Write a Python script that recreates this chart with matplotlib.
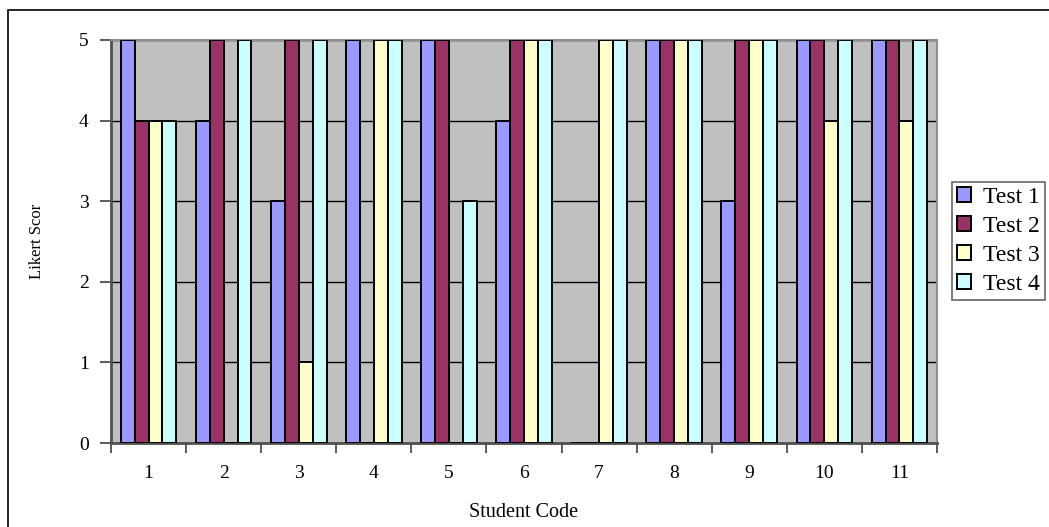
import numpy as np
import matplotlib.pyplot as plt
from matplotlib.patches import Rectangle

plt.rcParams['font.family'] = ['Liberation Serif', 'DejaVu Serif']

# Likert scores per student for each test
students = ['1', '2', '3', '4', '5', '6', '7', '8', '9', '10', '11']
test1 = [5, 4, 3, 5, 5, 4, 0, 5, 3, 5, 5]
test2 = [4, 5, 5, 0, 5, 5, 0, 5, 5, 5, 5]
test3 = [4, 0, 1, 5, 0, 5, 5, 5, 5, 4, 4]
test4 = [4, 5, 5, 5, 3, 5, 5, 5, 5, 5, 5]
series = ['Test 1', 'Test 2', 'Test 3', 'Test 4']
colors = ['#9999FF', '#993366', '#FFFFCC', '#CCFFFF']

fig = plt.figure(figsize=(10.49, 5.27), dpi=100)
W, H = 1049, 527
ax = fig.add_axes([111 / W, 1 - 443 / H, 826 / W, 403 / H])

# outer chart border
fig.patches.append(Rectangle((8 / W, -0.1), 1.2, 1 - 10 / H + 0.1,
                             transform=fig.transFigure, fill=False,
                             edgecolor='black', linewidth=1.2))

x = np.arange(len(students))
bw = 0.185
for i, (vals, name, c) in enumerate(zip([test1, test2, test3, test4], series, colors)):
    ax.bar(x + (i - 1.5) * bw, vals, width=bw, color=c, edgecolor='black',
           linewidth=1.4, label=name, zorder=3)

ax.set_facecolor('#C0C0C0')
ax.set_xlim(-0.5, len(students) - 0.5)
ax.set_ylim(0, 5)
ax.set_yticks(range(6))
ax.yaxis.grid(True, color='black', linewidth=1.0, zorder=1)
ax.set_axisbelow(True)

# category ticks sit between groups, labels at group centres
ax.set_xticks(np.arange(-0.5, len(students), 1.0))
ax.set_xticklabels([])
ax.set_xticks(x, minor=True)
ax.set_xticklabels(students, minor=True, fontsize=14)
ax.tick_params(axis='x', which='minor', length=0, pad=16)
ax.tick_params(axis='x', which='major', length=7, width=1.2, color='#404040', direction='out')
ax.tick_params(axis='y', length=8, width=1.2, color='#404040', labelsize=14, pad=8)

for s in ['left', 'bottom']:
    ax.spines[s].set_color('#505050')
    ax.spines[s].set_linewidth(2)
for s in ['top', 'right']:
    ax.spines[s].set_color('#909090')
    ax.spines[s].set_linewidth(1.5)

ax.set_xlabel('Student Code', fontsize=14.5)
ax.xaxis.set_label_coords(0.5, -0.15)
ax.set_ylabel('Likert Scor', fontsize=12)
ax.yaxis.set_label_coords(-0.08, 0.5)

leg = fig.legend(loc='upper left', bbox_to_anchor=(952 / W, 1 - 182 / H),
                 fontsize=17, frameon=True, fancybox=False, edgecolor='#404040',
                 handlelength=0.6, handleheight=0.6, handletextpad=0.5,
                 labelspacing=0.33, borderpad=0.22, borderaxespad=0)
leg.get_frame().set_linewidth(1.2)

fig.savefig('out.png', dpi=100)
